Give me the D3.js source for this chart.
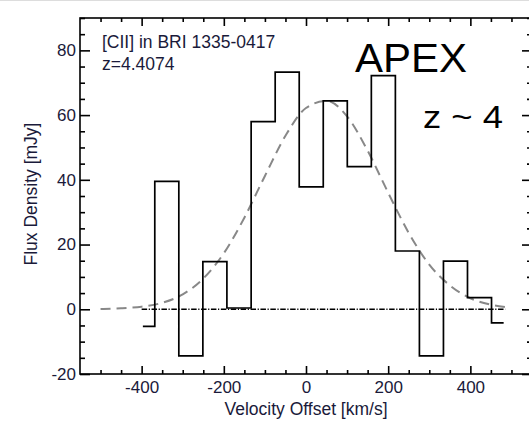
<html>
<head>
<meta charset="utf-8">
<script src="https://d3js.org/d3.v7.min.js"></script>
<style>
body { margin: 0; background: #fff; }
text { font-family: "Liberation Sans", Arial, sans-serif; fill: #1a1a3a; }
.big { fill: #000; }
</style>
</head>
<body>
<svg id="svg1" width="529" height="425"></svg>
<script>
// channel centres [km/s] and flux [mJy]
var velocity = [-397, -339, -280, -222, -163, -104, -46, 13, 71, 130, 188, 247, 305, 364, 422, 481];
var flux     = [-5.3, 39.5, -14.4, 14.7, 0.4, 58.0, 73.3, 37.8, 64.4, 44.1, 72.2, 18.0, -14.4, 14.9, 3.6, -4.2];

// gaussian fit (dashed line)
var fitVel  = [-500, -450, -400, -350, -300, -250, -200, -150, -100, -50, 0, 50, 100, 150, 200, 250, 300, 350, 400, 450, 485];
var fitFlux = [0.1, 0.3, 0.8, 2.0, 4.6, 9.5, 17.3, 28.3, 41.2, 53.6, 62.2, 64.4, 59.6, 49.0, 36.0, 23.6, 13.8, 7.4, 3.4, 1.4, 0.7];

var xMajor = [-400, -200, 0, 200, 400];
var yMajor = [-20, 0, 20, 40, 60, 80];

var mLeft = 80, mRight = 532, mTop = 18, mBottom = 374;

var svg = d3.select("#svg1");

var x = d3.scaleLinear().domain([-550, 550]).range([mLeft, mRight]);
var y = d3.scaleLinear().domain([-20, 90]).range([mBottom, mTop]);

var xMinor = d3.range(-500, 501, 50).filter(function(d) { return xMajor.indexOf(d) < 0; });
var yMinor = d3.range(-20, 91, 5).filter(function(d) { return yMajor.indexOf(d) < 0; });

var plain = function(d) { return String(d); };

// faint line at the very top of the image
svg.append("line").attr("x1", 0).attr("x2", 529).attr("y1", 0.5).attr("y2", 0.5)
  .attr("stroke", "#ddd").attr("stroke-width", 1);

function styleAxis(g) {
  g.select(".domain").remove();
  g.selectAll(".tick line").attr("stroke", "#000").attr("stroke-width", 1.6);
  g.selectAll("text").style("font-size", "17px").attr("fill", "#1a1a3a");
}

// bottom
svg.append("g").attr("transform", "translate(0," + mBottom + ")")
  .call(d3.axisBottom(x).tickValues(xMajor).tickSize(-8).tickPadding(7).tickFormat(plain))
  .call(styleAxis);
svg.append("g").attr("transform", "translate(0," + mBottom + ")")
  .call(d3.axisBottom(x).tickValues(xMinor).tickSize(-4).tickFormat(""))
  .call(styleAxis);
// top
svg.append("g").attr("transform", "translate(0," + mTop + ")")
  .call(d3.axisTop(x).tickValues(xMajor).tickSize(-8).tickFormat(""))
  .call(styleAxis);
svg.append("g").attr("transform", "translate(0," + mTop + ")")
  .call(d3.axisTop(x).tickValues(xMinor).tickSize(-4).tickFormat(""))
  .call(styleAxis);
// left
svg.append("g").attr("transform", "translate(" + mLeft + ",0)")
  .call(d3.axisLeft(y).tickValues(yMajor).tickSize(-10).tickPadding(4).tickFormat(plain))
  .call(styleAxis);
svg.append("g").attr("transform", "translate(" + mLeft + ",0)")
  .call(d3.axisLeft(y).tickValues(yMinor).tickSize(-5).tickFormat(""))
  .call(styleAxis);
// right
svg.append("g").attr("transform", "translate(" + mRight + ",0)")
  .call(d3.axisRight(y).tickValues(yMajor).tickSize(-10).tickFormat(""))
  .call(styleAxis);
svg.append("g").attr("transform", "translate(" + mRight + ",0)")
  .call(d3.axisRight(y).tickValues(yMinor).tickSize(-5).tickFormat(""))
  .call(styleAxis);

// frame
svg.append("rect").attr("x", mLeft).attr("y", mTop)
  .attr("width", mRight - mLeft).attr("height", mBottom - mTop)
  .attr("fill", "none").attr("stroke", "#000").attr("stroke-width", 1.6);

// zero line, dash-dot
svg.append("line")
  .attr("x1", x(-400)).attr("x2", x(485))
  .attr("y1", y(0)).attr("y2", y(0))
  .attr("stroke", "#000").attr("stroke-width", 1.3)
  .attr("stroke-dasharray", "5.5,1.6,1.2,1.6");

// gaussian fit
var fitLine = d3.line()
  .x(function(d, i) { return x(fitVel[i]); })
  .y(function(d) { return y(d); })
  .curve(d3.curveMonotoneX);
svg.append("path").datum(fitFlux)
  .attr("d", fitLine)
  .attr("fill", "none").attr("stroke", "#888").attr("stroke-width", 2)
  .attr("stroke-dasharray", "10,6");

// histogram (steps between channel centres)
var pts = [];
velocity.forEach(function(v, i) {
  var x0 = i == 0 ? v : (velocity[i - 1] + v) / 2;
  var x1 = i == velocity.length - 1 ? v : (v + velocity[i + 1]) / 2;
  pts.push([x0, flux[i]]);
  pts.push([x1, flux[i]]);
});
svg.append("path").datum(pts)
  .attr("d", d3.line().x(function(d) { return x(d[0]); }).y(function(d) { return y(d[1]); }))
  .attr("fill", "none").attr("stroke", "#000").attr("stroke-width", 1.7);

// labels
svg.append("text").attr("x", 102).attr("y", 48).style("font-size", "17.5px")
  .text("[CII] in BRI 1335-0417");
svg.append("text").attr("x", 102).attr("y", 70).style("font-size", "17.5px")
  .text("z=4.4074");

svg.append("text").attr("class", "big").attr("x", 355).attr("y", 72)
  .style("font-size", "41px").attr("textLength", 112).attr("lengthAdjust", "spacingAndGlyphs").text("APEX");
svg.append("text").attr("class", "big").attr("x", 423).attr("y", 128)
  .style("font-size", "31px").style("white-space", "pre")
  .attr("textLength", 80).attr("lengthAdjust", "spacingAndGlyphs").text("z ~ 4");

svg.append("text").attr("x", 306).attr("y", 415).attr("text-anchor", "middle")
  .style("font-size", "17.5px").text("Velocity Offset [km/s]");
svg.append("text").attr("transform", "translate(37,194) rotate(-90)").attr("text-anchor", "middle")
  .style("font-size", "17.5px").text("Flux Density [mJy]");
</script>
</body>
</html>
